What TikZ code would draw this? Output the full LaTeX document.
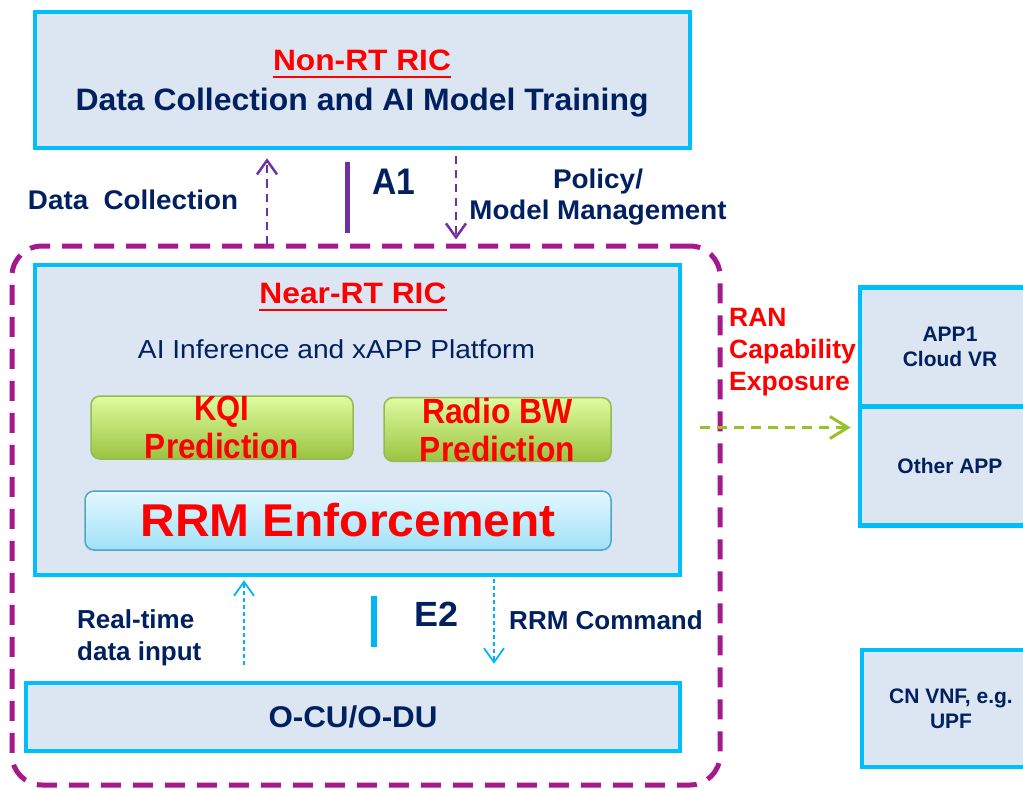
\documentclass[tikz,border=0pt]{standalone}
\usepackage{fontspec}
\setmainfont{Liberation Sans}
\usetikzlibrary{arrows.meta}

\definecolor{rimcyan}{RGB}{0,190,250}
\definecolor{panel}{RGB}{220,230,242}
\definecolor{navy}{RGB}{0,32,96}
\definecolor{ricred}{RGB}{255,0,0}
\definecolor{zone}{RGB}{165,25,140}
\definecolor{aone}{RGB}{112,48,160}
\definecolor{eline}{RGB}{0,180,245}
\definecolor{expo}{RGB}{150,195,40}
\definecolor{gtop}{RGB}{222,252,160}
\definecolor{gbot}{RGB}{155,195,65}
\definecolor{gedge}{RGB}{150,185,85}
\definecolor{ctop}{RGB}{228,248,255}
\definecolor{cbot}{RGB}{160,225,248}
\definecolor{cedge}{RGB}{80,165,195}

% text squeezed or stretched to a given width, height kept
\newcommand\fitw[3]{\resizebox{#1pt}{\height}{\fontsize{#2}{#2}\selectfont #3}}
\newcommand\fs[2]{\fontsize{#1}{#2}\selectfont}

\begin{document}
\begin{tikzpicture}[x=1pt,y=-1pt,
  panelbox/.style={draw=rimcyan, line width=4.5pt, fill=panel, inner sep=0pt},
  predbox/.style={draw=gedge, line width=1.5pt, rounded corners=9pt,
    top color=gtop, bottom color=gbot, inner sep=0pt, text=ricred,
    align=center, font=\bfseries\fs{35}{38}},
  rrmbox/.style={draw=cedge, line width=1.5pt, rounded corners=9pt,
    top color=ctop, bottom color=cbot, inner sep=0pt, text=ricred, font=\bfseries},
  appbox/.style={panelbox, text=navy, align=center, font=\bfseries\fs{21}{25}},
  txt/.style={inner sep=0pt, text=navy, font=\bfseries},
  redtxt/.style={inner sep=0pt, text=ricred, font=\bfseries},
  zoneline/.style={draw=zone, line width=5pt, dash pattern=on 20pt off 12pt,
    rounded corners=30pt},
  aflow/.style={draw=aone, line width=2.5pt, dash pattern=on 8pt off 6pt,
    -{Straight Barb[length=14pt,width=20pt,line width=2.5pt]}},
  eflow/.style={draw=eline, line width=1.8pt, dash pattern=on 4pt off 3pt,
    -{Straight Barb[length=14pt,width=20pt,line width=1.8pt]}},
  xflow/.style={draw=expo, line width=3pt, dash pattern=on 10pt off 7pt,
    -{Straight Barb[length=18pt,width=22pt,line width=3pt]}},
  ifbar/.style={line width=5.5pt}
]
\clip (0,0) rectangle (1023,789);

% ---------- Non-RT RIC ----------
\node[panelbox, minimum width=655pt, minimum height=136pt] (nonrt) at (362.5,80) {};
\node[redtxt] (nonrtTitle) at (362,60) {\fitw{178}{29.5}{Non-RT RIC}};
\draw[ricred, line width=2.5pt] ([yshift=-6.5pt]nonrtTitle.south west) -- ([yshift=-6.5pt]nonrtTitle.south east);
\node[txt] (nonrtRole) at (362,102.5) {\fitw{573}{31}{Data Collection and AI Model Training}};

% ---------- Near-RT RIC domain ----------
\node[zoneline, minimum width=708pt, minimum height=539pt, inner sep=0pt] (zone) at (366,515.5) {};

\node[panelbox, minimum width=645pt, minimum height=310pt] (nearrt) at (357.5,420) {};
\node[redtxt] (nearTitle) at (353,293) {\fitw{187}{29.5}{Near-RT RIC}};
\draw[ricred, line width=2.5pt] ([yshift=-6.5pt]nearTitle.south west) -- ([yshift=-6.5pt]nearTitle.south east);
\node[inner sep=0pt, text=navy] (nearRole) at (336.5,349) {\fitw{397}{26}{AI Inference and xAPP Platform}};

\node[predbox, minimum width=262pt, minimum height=63pt] (kqi) at (222,427.5)
  {\fitw{55}{35}{KQI}\\\fitw{154}{35}{Prediction}};
\node[predbox, minimum width=227pt, minimum height=63pt] (radio) at (497.5,429.5)
  {\fitw{151}{35}{Radio BW}\\\fitw{155}{35}{Prediction}};
\node[rrmbox, minimum width=526pt, minimum height=59pt] (rrm) at (348,520.5)
  {\fitw{415}{46}{RRM Enforcement}};

% ---------- O-CU / O-DU ----------
\node[panelbox, text=navy, font=\bfseries, minimum width=654pt, minimum height=68pt] (ocu) at (353,717)
  {\fitw{169}{30}{O-CU/O-DU}};

% ---------- external applications ----------
\node[appbox, minimum width=180pt, minimum height=119pt] (app1) at (950,347) {APP1\\Cloud VR};
\node[appbox, minimum width=180pt, minimum height=119pt] (other) at (950,466) {Other APP};
\node[appbox, minimum width=178pt, minimum height=117pt] (cnvnf) at (951,708.5) {CN VNF, e.g.\\UPF};

% ---------- A1 interface ----------
\coordinate (dcx) at (267,0);
\coordinate (a1x) at (347.5,0);
\coordinate (pmx) at (456,0);
\draw[aflow, shorten >=8pt] (zone.north -| dcx) -- (nonrt.south -| dcx);
\draw[aflow, shorten <=6pt, shorten >=4pt] (nonrt.south -| pmx) -- (zone.north -| pmx);
\draw[aone, ifbar, shorten <=12pt, shorten >=11pt] (nonrt.south -| a1x) -- (zone.north -| a1x);

\node[txt] (a1lbl) at (394,182) {\fitw{43}{37}{A1}};
\node[txt] (dclbl) at (133,200) {\fitw{210}{27}{Data\ \ Collection}};
\node[txt, align=center] (pmlbl) at (598,197)
  {\fitw{90}{27}{Policy/}\\[5pt]\fitw{257}{27}{Model Management}};

% ---------- E2 interface ----------
\coordinate (rtx) at (244,0);
\coordinate (e2x) at (374,0);
\coordinate (cmx) at (494,0);
\draw[eflow, shorten <=16pt, shorten >=3pt] (ocu.north -| rtx) -- (nearrt.south -| rtx);
\draw[eflow, shorten <=2pt, shorten >=17pt] (nearrt.south -| cmx) -- (ocu.north -| cmx);
\draw[eline, ifbar, shorten <=19pt, shorten >=34pt] (nearrt.south -| e2x) -- (ocu.north -| e2x);

\node[txt] (e2lbl) at (436.5,614) {\fitw{44}{35}{E2}};
\node[txt, align=left, anchor=west, font=\bfseries\fs{26}{32}] (rtlbl) at (77,638) {Real-time\\data input};
\node[txt, font=\bfseries\fs{26}{32}] (cmdlbl) at (606,620) {RRM Command};

% ---------- RAN capability exposure ----------
\coordinate (expy) at (0,427.5);
\draw[xflow, shorten <=18pt, shorten >=7pt] (nearrt.east |- expy) -- (other.west |- expy);
\node[redtxt, align=left, anchor=west, font=\bfseries\fs{26.5}{32}] (ranlbl) at (729,352.5)
  {RAN\\Capability\\Exposure};
\end{tikzpicture}
\end{document}
